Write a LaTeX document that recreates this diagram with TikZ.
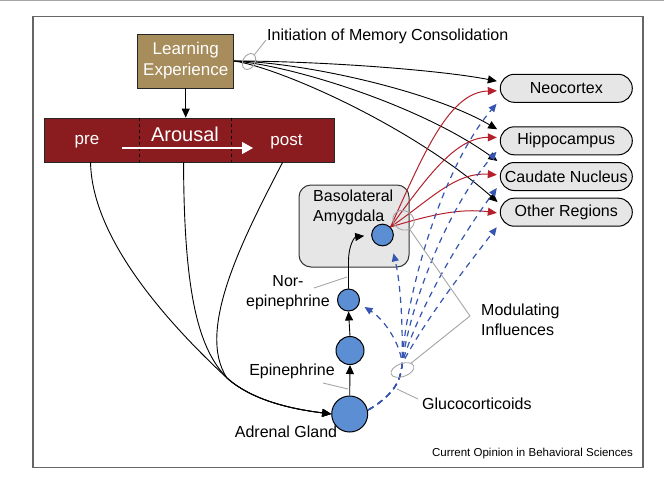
\documentclass[tikz,border=0pt]{standalone}
\usepackage{fontspec}
\setmainfont{Liberation Sans}
\usetikzlibrary{arrows.meta,shapes.geometric,calc}
\definecolor{tanbox}{HTML}{A88D5C}
\definecolor{arousalred}{HTML}{8A1B1F}
\definecolor{boxgray}{HTML}{E6E6E6}
\definecolor{circblue}{HTML}{5B8ED2}
\definecolor{dashblue}{HTML}{3555B0}
\definecolor{redarr}{HTML}{B5202B}
\definecolor{annot}{HTML}{A6A6A6}
\begin{document}
\begin{tikzpicture}[x=1pt,y=-1pt,
  lbl/.style={font=\fontsize{16}{20}\selectfont, inner sep=0pt},
  target/.style={draw=black, fill=boxgray, rounded corners=14pt, minimum width=132pt, minimum height=28pt, line width=1pt, font=\fontsize{16}{20}\selectfont, inner sep=0pt},
  circ/.style={circle, draw=black, fill=circblue, line width=1pt, inner sep=0pt},
  blk/.style={-{Triangle[length=9pt,width=8pt]}, line width=0.9pt},
  redline/.style={redarr, -{Triangle[length=9pt,width=8pt]}, line width=1pt, shorten >=3pt},
  blu/.style={dashblue, dash pattern=on 6pt off 5pt, line width=1.2pt, -{Triangle[length=8pt,width=7pt]}},
  ann/.style={annot, line width=0.9pt},
  annell/.style={ellipse, draw=annot, line width=0.9pt, inner sep=0pt}]
\useasboundingbox (0,0) rectangle (664,480);
\fill[white] (0,0) rectangle (664,480);
\draw[gray!70, line width=1.2pt] (0,0.6) -- (664,0.6);
\draw[black!60, line width=1.3pt] (33,16.5) rectangle (643,467.5);

% main boxes
\node[draw=black!85, fill=tanbox, text=white, minimum width=96pt, minimum height=54pt, align=center, line width=0.9pt, font=\fontsize{17}{21}\selectfont, inner sep=0pt] (learn) at (185.7,61) {Learning\\Experience};
\node[draw=black!85, fill=arousalred, minimum width=289.5pt, minimum height=44pt, line width=0.9pt] (arousal) at (189.25,140) {};
\draw[black, dashed, line width=0.8pt] ($(arousal.north west)+(95.5,0)$) -- ($(arousal.south west)+(95.5,0)$);
\draw[black, dashed, line width=0.8pt] ($(arousal.north west)+(187.5,0)$) -- ($(arousal.south west)+(187.5,0)$);
\node[lbl, text=white, font=\fontsize{17}{20}\selectfont] (pre) at (87,142) {pre};
\node[lbl, text=white, font=\fontsize{20}{24}\selectfont] (arousaltxt) at (185,134) {Arousal};
\node[lbl, text=white, font=\fontsize{17}{20}\selectfont] (post) at (286.5,142) {post};
\coordinate (wa) at (122,148);
\coordinate (wb) at (253,148);
\draw[white, line width=1.3pt, -{Triangle[length=11pt,width=12pt]}] (wa) -- (wb);

\node[target] (neo) at (566.3,88.3) {Neocortex};
\node[target] (hip) at (566.3,140.8) {Hippocampus};
\node[target] (cau) at (566.3,176.5) {Caudate Nucleus};
\node[target] (oth) at (566.3,212.2) {Other Regions};

\node[draw=black!80, fill=boxgray, rounded corners=12pt, minimum width=110pt, minimum height=82pt, line width=1pt] (bla) at (354,226) {};
\node[lbl, align=left, anchor=west] (blatext) at (313,207) {Basolateral\\Amygdala};

\node[circ, minimum size=21.7pt] (blac) at (382.5,235) {};
\node[circ, minimum size=22pt] (ne) at (348.5,300) {};
\node[circ, minimum size=28pt] (epi) at (350,350.5) {};
\node[circ, minimum size=36pt] (adr) at (349.7,414) {};

% labels
\node[lbl, align=center] (netext) at (288,293) {Nor-\\epinephrine};
\node[lbl] (epitext) at (292,371) {Epinephrine};
\node[lbl] (adrtext) at (286,432) {Adrenal Gland};
\node[lbl, anchor=west] (init) at (267,36) {Initiation of Memory Consolidation};
\node[lbl, anchor=west] (glu) at (422,404) {Glucocorticoids};
\node[lbl, anchor=west, align=left] (mod) at (481,319.5) {Modulating\\Influences};
\node[lbl, anchor=east, font=\fontsize{11.5}{14}\selectfont] (credit) at (633,454) {Current Opinion in Behavioral Sciences};

% black connectors
\draw[blk] (learn.south) -- (learn.south |- arousal.north);
\draw[blk] (adr.north) -- (epi.south);
\draw[blk] (epi.north) -- (ne.south);
\draw[blk, shorten >=7pt] (ne.north) -- (348.5,262) .. controls (348.5,244) and (355,237) .. (blac.west);

\coordinate (J) at (227,378);
\draw[blk] ($(arousal.south west)+(46.5,0)$) .. controls (92,240) and (170,325) .. (J) .. controls (255,403) and (300,410) .. (adr.west);
\draw[blk] ($(arousal.south west)+(139.5,0)$) .. controls (184,300) and (200,350) .. (J) .. controls (255,403) and (300,410) .. (adr.west);
\draw[blk] ($(arousal.south west)+(238.5,0)$) .. controls (245,235) and (195,330) .. (J) .. controls (255,403) and (300,410) .. (adr.west);

\draw[blk, shorten >=3pt] (learn.east) .. controls (320,61) and (440,70) .. ($(neo.west)+(0,-6.6)$);
\draw[blk, shorten >=3pt] (learn.east) .. controls (300,62) and (430,90) .. ($(hip.west)+(0,-10)$);
\draw[blk, shorten >=3pt] (learn.east) .. controls (290,65) and (420,105) .. ($(cau.west)+(0,-13.8)$);
\draw[blk, shorten >=3pt] (learn.east) .. controls (280,68) and (410,125) .. ($(oth.west)+(0,-8.2)$);

% red connectors
\draw[redline] (blac.north east) .. controls (425,150) and (450,92) .. ($(neo.west)+(0,2.4)$);
\draw[redline] (blac.north east) .. controls (425,180) and (455,137) .. ($(hip.west)+(0,-3.3)$);
\draw[redline] (blac.north east) .. controls (430,200) and (455,172) .. ($(cau.west)+(0,-1.5)$);
\draw[redline] (blac.north east) .. controls (430,215) and (460,208) .. ($(oth.west)+(0,1.1)$);

% blue dashed connectors (bundle through the glucocorticoid ellipse, then fan out)
\coordinate (bs) at ($(adr.east)+(0,-4)$);
\coordinate (G) at (402,364);
\draw[blu] (bs) .. controls (392,396) and (401,382) .. (G) .. controls (403,330) and (401,285) .. ($(blac.south)+(11,7)$);
\draw[blu] (bs) .. controls (392,396) and (401,382) .. (G) .. controls (401,345) and (385,320) .. ($(ne.east)+(4.5,7)$);
\draw[blu, shorten >=5pt] (bs) .. controls (392,396) and (401,382) .. (G) .. controls (405,300) and (440,170) .. ($(neo.west)+(0,11.7)$);
\draw[blu, shorten >=5pt] (bs) .. controls (392,396) and (401,382) .. (G) .. controls (410,305) and (447,208) .. ($(hip.west)+(0,7.2)$);
\draw[blu, shorten >=5pt] (bs) .. controls (392,396) and (401,382) .. (G) .. controls (416,315) and (455,245) .. ($(cau.west)+(0,7.5)$);
\draw[blu, shorten >=5pt] (bs) .. controls (392,396) and (401,382) .. (G) .. controls (424,322) and (460,275) .. ($(oth.west)+(0,11.1)$);

% annotations
\node[annell, minimum width=17pt, minimum height=12pt, rotate=60] (lee) at (249,61.5) {};
\draw[ann] (lee) -- ($(init.west)+(-1,4)$);
\node[annell, minimum width=22pt, minimum height=19pt, rotate=-30] (blae) at (403.5,220.3) {};
\node[annell, minimum width=24pt, minimum height=13pt, rotate=20] (gce) at (402.5,370) {};
\coordinate (vtx) at (470,316);
\draw[ann] (blae) -- (vtx) -- (gce);
\coordinate (gla) at (397,389);
\draw[ann] (gla) -- ($(glu.west)+(-4,-5)$);
\coordinate (nla) at (314,288);
\coordinate (nlb) at (347,277);
\draw[ann] (nla) -- (nlb);
\coordinate (ela) at (323,383);
\coordinate (elb) at (348,389);
\draw[ann] (ela) -- (elb);
\end{tikzpicture}
\end{document}
